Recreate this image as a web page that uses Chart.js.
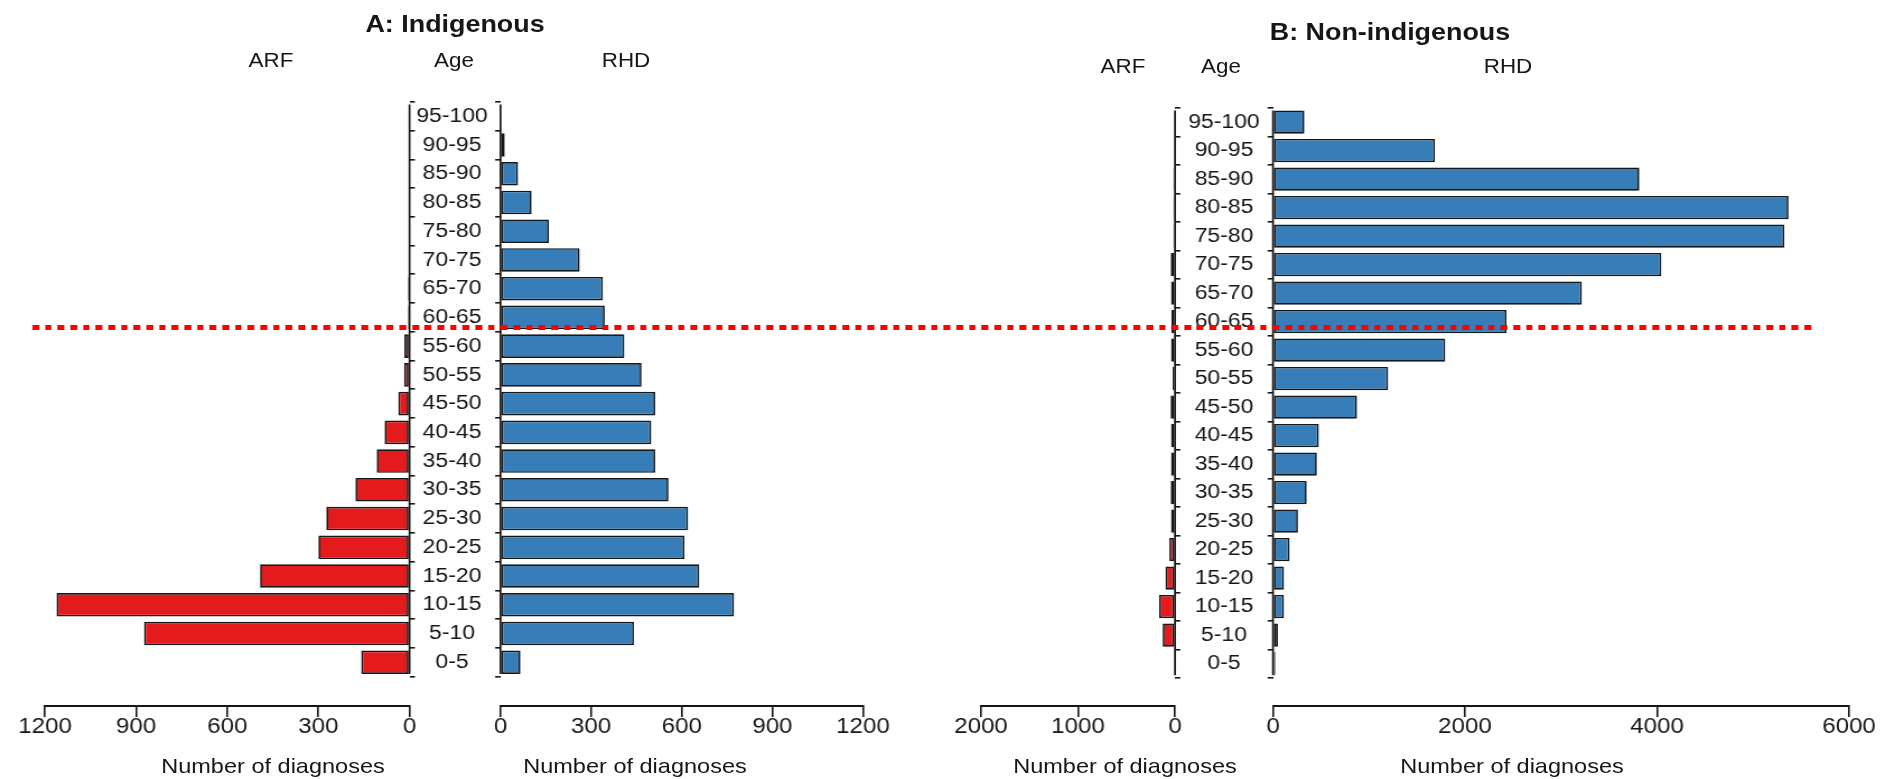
<!DOCTYPE html>
<html lang="en">
<head>
<meta charset="utf-8">
<title>ARF and RHD diagnoses by age group</title>
<script src="https://cdn.jsdelivr.net/npm/chart.js@4.4.1/dist/chart.umd.min.js"></script>
<style>
  html, body { margin: 0; padding: 0; background: #fff; overflow: hidden; }
  #stage { position: absolute; left: 0; top: 0; height: 779px; transform-origin: 0 0;
           font-family: "Liberation Sans", Arial, sans-serif; color: #161616; }
  #stage canvas { position: absolute; top: 0; }
  .txt { position: absolute; transform: translate(-50%, -50%); white-space: nowrap; line-height: 1; font-size: 20px; }
  .title { font-weight: bold; font-size: 24px; }
  .axis-title { font-size: 21px; }
  #cutoff { position: absolute; height: 5px; z-index: 5;
            background: repeating-linear-gradient(to right, #ff0000 0, #ff0000 6px, transparent 6px, transparent 11.3px); }
</style>
</head>
<body>
<div id="stage"></div>
<script>
// Age groups, bottom to top
const ages = ['0-5', '5-10', '10-15', '15-20', '20-25', '25-30', '30-35', '35-40', '40-45', '45-50',
              '50-55', '55-60', '60-65', '65-70', '70-75', '75-80', '80-85', '85-90', '90-95', '95-100'];

// Number of diagnoses per age group
const arfIndigenous    = [159, 874, 1162, 492, 300, 274, 178, 108, 82, 37, 18, 17, 5, 5, 0, 0, 0, 0, 0, 0];
const rhdIndigenous    = [66, 442, 773, 658, 609, 621, 556, 512, 499, 512, 467, 410, 345, 339, 262, 160, 103, 58, 14, 0];
const arfNonIndigenous = [10, 127, 164, 99, 58, 41, 44, 41, 41, 45, 24, 41, 38, 41, 44, 17, 17, 17, 0, 0];
const rhdNonIndigenous = [24, 51, 114, 114, 173, 260, 351, 457, 477, 875, 1199, 1794, 2432, 3217, 4045, 5326, 5370, 3816, 1687, 327];

// Axis tick values
const arfTicksA = [0, 300, 600, 900, 1200];
const rhdTicksA = [0, 300, 600, 900, 1200];
const arfTicksB = [0, 1000, 2000];
const rhdTicksB = [0, 2000, 4000, 6000];

const ARF_RED = '#E41A1C';
const RHD_BLUE = '#377EB8';
const INK = '#161616';
const FONT_FAMILY = '"Liberation Sans", Arial, sans-serif';
const TICK_FONT = { family: FONT_FAMILY, size: 21.5 };
const AGE_FONT = { family: FONT_FAMILY, size: 20.5 };

// The figure is laid out in page pixels and stretched horizontally as a whole
const STRETCH = 1.12;
const PAGE_W = 1888, PAGE_H = 779, AXIS_Y = 706;
const sx = v => v / STRETCH;

const stage = document.getElementById('stage');
stage.style.width = sx(PAGE_W) + 'px';
stage.style.transform = `scaleX(${STRETCH})`;

const panels = [
  { arf: arfIndigenous, rhd: rhdIndigenous, arfTicks: arfTicksA, rhdTicks: rhdTicksA,
    arfSpan: [45, 409.5], rhdSpan: [500.5, 863], ageX: 452, firstRow: 101.5, rowGap: 30.25 },
  { arf: arfNonIndigenous, rhd: rhdNonIndigenous, arfTicks: arfTicksB, rhdTicks: rhdTicksB,
    arfSpan: [981, 1175], rhdSpan: [1273, 1849], ageX: 1224, firstRow: 107.5, rowGap: 30 }
];

// Vertical axis line at zero, running from the top bar to the bottom bar
const ageAxisLine = {
  id: 'ageAxisLine',
  afterDatasetsDraw(chart) {
    const { ctx, scales: { x, y } } = chart;
    const px = x.getPixelForValue(0);
    ctx.save();
    ctx.strokeStyle = INK;
    ctx.lineWidth = 1.7;
    ctx.beginPath();
    ctx.moveTo(px, y.getPixelForValue(ages.length - 1 + 0.41));
    ctx.lineTo(px, y.getPixelForValue(-0.41));
    ctx.stroke();
    ctx.restore();
  }
};

const measure = document.createElement('canvas').getContext('2d');
measure.font = `${AGE_FONT.size}px ${FONT_FAMILY}`;
const widestAge = Math.max(...ages.map(a => measure.measureText(a).width));

function addCanvas(fromX, toX) {
  const left = Math.floor(sx(fromX));
  const canvas = document.createElement('canvas');
  canvas.width = Math.ceil(sx(toX)) - left;
  canvas.height = PAGE_H;
  canvas.style.left = left + 'px';
  stage.appendChild(canvas);
  return { canvas, left };
}

function pyramidHalf(panel, side) {
  const isArf = side === 'arf';
  const values = isArf ? panel.arf : panel.rhd;
  const ticks = isArf ? panel.arfTicks : panel.rhdTicks;
  const span = isArf ? panel.arfSpan : panel.rhdSpan;
  const { canvas, left } = isArf ? addCanvas(span[0] - 42, span[1] + 7)
                                 : addCanvas(span[0] - 88, span[1] + 34);
  const areaL = sx(span[0]) - left;
  const areaR = sx(span[1]) - left;
  const bandTop = panel.firstRow - panel.rowGap / 2;
  const yMax = ages.length - 0.5;
  const yMin = yMax - (AXIS_Y - bandTop) / panel.rowGap;
  const tickLen = 4.8;
  const yAxisWidth = isArf ? 5.8 : areaL;
  const labelPad = isArf ? 0 : areaL - tickLen - widestAge / 2 - (sx(panel.ageX) - left);

  return new Chart(canvas, {
    type: 'bar',
    data: {
      datasets: [{
        label: isArf ? 'ARF' : 'RHD',
        data: values.map((v, i) => ({ x: v, y: i })),
        backgroundColor: isArf ? ARF_RED : RHD_BLUE,
        borderColor: INK,
        borderWidth: 1.7,
        borderSkipped: false,
        categoryPercentage: 1,
        barPercentage: 0.82
      }]
    },
    options: {
      indexAxis: 'y',
      responsive: false,
      animation: false,
      events: [],
      layout: { padding: { top: bandTop, bottom: 0,
                           left: isArf ? areaL : 0,
                           right: canvas.width - areaR - (isArf ? yAxisWidth : 0) } },
      plugins: { legend: { display: false }, tooltip: { enabled: false } },
      scales: {
        x: {
          type: 'linear', reverse: isArf, min: 0, max: ticks[ticks.length - 1],
          afterBuildTicks: s => { s.ticks = ticks.map(value => ({ value })); },
          afterFit: s => { s.height = PAGE_H - AXIS_Y; },
          grid: { drawOnChartArea: false, tickLength: 11, color: INK, lineWidth: 1.6 },
          border: { display: true, color: INK, width: 1.9 },
          ticks: { font: TICK_FONT, color: INK, padding: -3, maxRotation: 0, autoSkip: false,
                   callback: v => String(v) }
        },
        y: {
          type: 'linear', position: isArf ? 'right' : 'left', min: yMin, max: yMax,
          afterBuildTicks: s => { s.ticks = ages.map((_, i) => ({ value: i })); },
          afterFit: s => { s.width = yAxisWidth; },
          grid: { drawOnChartArea: false, tickLength: tickLen, color: INK, lineWidth: 1.6 },
          border: { display: false },
          ticks: { display: !isArf, font: AGE_FONT, color: INK, crossAlign: 'center',
                   padding: labelPad, callback: v => ages[v] }
        }
      }
    },
    plugins: [ageAxisLine]
  });
}

panels.forEach(p => { pyramidHalf(p, 'arf'); pyramidHalf(p, 'rhd'); });

// Titles and axis captions
const captions = [
  { text: 'A: Indigenous', x: 455, y: 24, cls: 'title' },
  { text: 'ARF', x: 271, y: 60 }, { text: 'Age', x: 454, y: 60 }, { text: 'RHD', x: 626, y: 60 },
  { text: 'B: Non-indigenous', x: 1390, y: 32, cls: 'title' },
  { text: 'ARF', x: 1123, y: 66 }, { text: 'Age', x: 1221, y: 66 }, { text: 'RHD', x: 1508, y: 66 },
  { text: 'Number of diagnoses', x: 273, y: 765, cls: 'axis-title' },
  { text: 'Number of diagnoses', x: 635, y: 765, cls: 'axis-title' },
  { text: 'Number of diagnoses', x: 1125, y: 765, cls: 'axis-title' },
  { text: 'Number of diagnoses', x: 1512, y: 765, cls: 'axis-title' }
];
captions.forEach(c => {
  const el = document.createElement('div');
  el.className = 'txt' + (c.cls ? ' ' + c.cls : '');
  el.textContent = c.text;
  el.style.left = sx(c.x) + 'px';
  el.style.top = c.y + 'px';
  stage.appendChild(el);
});

// Dotted cut-off line across both panels
const cutoff = document.createElement('div');
cutoff.id = 'cutoff';
cutoff.style.left = sx(32) + 'px';
cutoff.style.width = sx(1817 - 32) + 'px';
cutoff.style.top = (327 - 2.5) + 'px';
stage.appendChild(cutoff);
</script>
</body>
</html>
